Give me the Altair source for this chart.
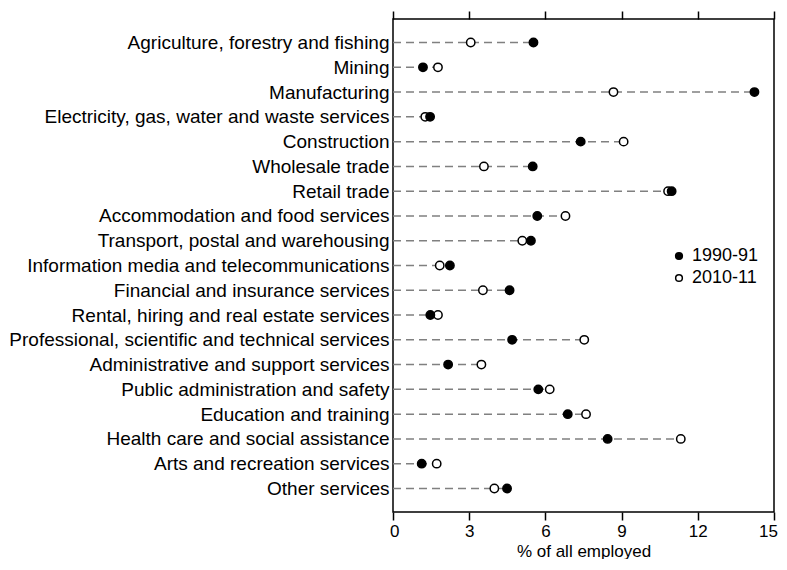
import altair as alt
import pandas as pd

industries = [
    "Agriculture, forestry and fishing",
    "Mining",
    "Manufacturing",
    "Electricity, gas, water and waste services",
    "Construction",
    "Wholesale trade",
    "Retail trade",
    "Accommodation and food services",
    "Transport, postal and warehousing",
    "Information media and telecommunications",
    "Financial and insurance services",
    "Rental, hiring and real estate services",
    "Professional, scientific and technical services",
    "Administrative and support services",
    "Public administration and safety",
    "Education and training",
    "Health care and social assistance",
    "Arts and recreation services",
    "Other services",
]
v1990 = [5.53, 1.18, 14.23, 1.46, 7.39, 5.50, 10.97, 5.68, 5.43, 2.24, 4.59,
         1.47, 4.69, 2.17, 5.72, 6.88, 8.45, 1.13, 4.49]
v2010 = [3.06, 1.77, 8.68, 1.27, 9.08, 3.58, 10.83, 6.79, 5.09, 1.84, 3.54,
         1.77, 7.53, 3.48, 6.17, 7.60, 11.33, 1.72, 3.99]
years = ["1990-91", "2010-11"]
ticks = [0, 3, 6, 9, 12, 15]

FONT = "Liberation Sans"

rows = []
for name, a, b in zip(industries, v1990, v2010):
    rows.append({"industry": name, "year": years[0], "value": a, "ord": 1})
    rows.append({"industry": name, "year": years[1], "value": b, "ord": 0})
pts = pd.DataFrame(rows)
rules = pd.DataFrame({
    "industry": industries,
    "zero": [0] * len(industries),
    "xmax": [max(a, b) for a, b in zip(v1990, v2010)],
})

xscale = alt.Scale(domain=[0, 15], nice=False, zero=True)
yenc = alt.Y(
    "industry:N",
    sort=industries,
    scale=alt.Scale(type="point", padding=0.95),
    axis=alt.Axis(title=None, domain=False, ticks=False, labelPadding=4,
                  labelFontSize=19, labelFont=FONT, labelColor="black",
                  labelLimit=500),
)

rule_layer = alt.Chart(rules).mark_rule(
    color="#808080", strokeWidth=1.5, strokeDash=[8, 5]
).encode(
    x=alt.X("zero:Q", scale=xscale,
            axis=alt.Axis(orient="top", values=ticks, labels=False, title=None,
                          domain=False, ticks=True, tickSize=8, tickWidth=1.5,
                          tickColor="black", grid=False, minExtent=8, maxExtent=8)),
    x2="xmax:Q",
    y=yenc,
)

point_layer = alt.Chart(pts).mark_circle(
    size=70, stroke="black", strokeWidth=1.5, opacity=1
).encode(
    x=alt.X("value:Q", scale=xscale,
            axis=alt.Axis(orient="bottom", values=ticks, title="% of all employed",
                          domain=False, ticks=True, tickSize=8, tickWidth=1.5,
                          tickColor="black", grid=False, labelPadding=3,
                          labelFontSize=17, labelFont=FONT, labelColor="black",
                          titleFontSize=17, titleFont=FONT, titleFontWeight="normal",
                          titleColor="black", titlePadding=4,
                          labelFlush=True, labelFlushOffset=3.5)),
    y=yenc,
    fill=alt.Fill("year:N",
                  scale=alt.Scale(domain=years, range=["black", "white"]),
                  legend=alt.Legend(orient="none", legendX=277, legendY=228,
                                    title=None, symbolType="circle", symbolSize=45,
                                    symbolStrokeColor="black", symbolStrokeWidth=1.5,
                                    labelFontSize=18, labelFont=FONT,
                                    labelColor="black", rowPadding=4, padding=0)),
    order=alt.Order("ord:Q"),
)

chart = alt.layer(rule_layer, point_layer).resolve_axis(x="independent").properties(
    width=381, height=493,
    padding={"left": 0, "top": 2, "right": 0, "bottom": 0},
    background="white",
).configure_view(
    stroke="black", strokeWidth=1.5
)

chart.save("out.html", embed_options={"renderer": "svg", "actions": False})
